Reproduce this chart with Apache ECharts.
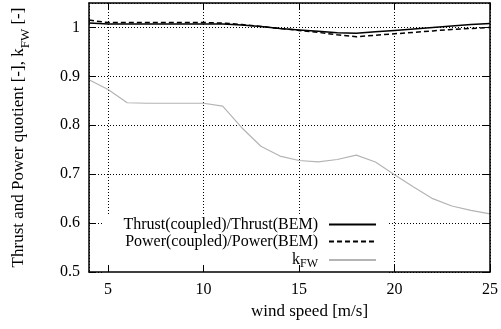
<!DOCTYPE html>
<html>
<head>
<meta charset="utf-8">
<script src="https://cdn.jsdelivr.net/npm/echarts@6/dist/echarts.min.js"></script>
<style>
  html, body { margin: 0; padding: 0; background: #fff; }
  #chart { width: 501px; height: 329px; }
</style>
</head>
<body>
<div id="chart"></div>
<script>
// Wind speed samples [m/s]
const windSpeed = [4, 5, 6, 7, 8, 9, 10, 11, 12, 13, 14, 15, 16, 17, 18, 19, 20, 21, 22, 23, 24, 25];
// Thrust(coupled)/Thrust(BEM)
const thrustRatio = [1.009, 1.007, 1.007, 1.007, 1.007, 1.007, 1.007, 1.007, 1.005, 1.002, 0.998, 0.995, 0.992, 0.989, 0.988, 0.991, 0.994, 0.997, 1.000, 1.003, 1.006, 1.008];
// Power(coupled)/Power(BEM)
const powerRatio = [1.015, 1.010, 1.010, 1.010, 1.010, 1.010, 1.010, 1.009, 1.006, 1.002, 0.998, 0.994, 0.990, 0.985, 0.981, 0.984, 0.987, 0.990, 0.993, 0.996, 0.998, 1.000];
// Free-wake factor k_FW
const kFW = [0.893, 0.873, 0.846, 0.845, 0.845, 0.845, 0.845, 0.839, 0.795, 0.757, 0.737, 0.728, 0.725, 0.730, 0.739, 0.725, 0.699, 0.674, 0.650, 0.635, 0.626, 0.619];
// Axis tick values
const xTicks = [5, 10, 15, 20, 25];
const yTicks = [0.5, 0.6, 0.7, 0.8, 0.9, 1];

const FONT = '"Liberation Serif", "DejaVu Serif", serif';
const pairs = (ys) => windSpeed.map((x, i) => [x, ys[i]]);

const gridLine = { show: true, lineStyle: { color: '#000', type: [1, 2], width: 1 } };
const frame = { show: true, onZero: false, lineStyle: { color: '#000', width: 1.5 } };
const ticksIn = (vals) => ({ show: true, inside: true, length: 7, customValues: vals, lineStyle: { color: '#000', width: 1 } });
const noLine = { show: false };

// Frame-and-tick axes sit above the legend box; grid lines and labels stay below it.
const frameX = (pos) => ({
  type: 'value', min: 4, max: 25, position: pos, z: 10,
  axisLine: frame, axisTick: ticksIn(xTicks),
  axisLabel: { show: false }, splitLine: noLine
});
const frameY = (pos) => ({
  type: 'value', min: 0.5, max: 1.05, position: pos, z: 10,
  axisLine: frame, axisTick: ticksIn(yTicks),
  axisLabel: { show: false }, splitLine: noLine
});

const chart = echarts.init(document.getElementById('chart'), null, { renderer: 'canvas' });
chart.setOption({
  animation: false,
  backgroundColor: '#fff',
  textStyle: { fontFamily: FONT, color: '#000' },
  grid: { left: 89, right: 8, top: 3, bottom: 57, containLabel: false },
  xAxis: [
    {
      type: 'value', min: 4, max: 25, position: 'bottom',
      axisLine: noLine, axisTick: noLine,
      axisLabel: { customValues: xTicks, margin: 10, fontFamily: FONT, fontSize: 16, color: '#000' },
      splitLine: gridLine,
      name: 'wind speed [m/s]', nameLocation: 'middle', nameGap: 23,
      nameTextStyle: { fontFamily: FONT, fontSize: 17, color: '#000', padding: [0, 0, 0, 40] }
    },
    frameX('bottom'),
    frameX('top')
  ],
  yAxis: [
    {
      type: 'value', min: 0.5, max: 1.05, position: 'left',
      axisLine: noLine, axisTick: noLine,
      axisLabel: { customValues: yTicks, margin: 9, fontFamily: FONT, fontSize: 16, color: '#000' },
      splitLine: gridLine,
      name: 'Thrust and Power quotient [-], k{s|FW} [-]', nameLocation: 'middle', nameGap: 57,
      nameTextStyle: {
        fontFamily: FONT, fontSize: 17, color: '#000',
        rich: { s: { fontFamily: FONT, fontSize: 13, color: '#000', verticalAlign: 'bottom', lineHeight: 27 } }
      }
    },
    frameY('left'),
    frameY('right')
  ],
  legend: {
    orient: 'vertical', align: 'right',
    right: 114, top: 214,
    padding: [2, 10, 6, 20],
    backgroundColor: '#fff',
    itemGap: 0, itemWidth: 47, itemHeight: 10,
    itemStyle: { color: 'transparent', borderColor: 'transparent', borderWidth: 0 },
    data: ['Thrust(coupled)/Thrust(BEM)', 'Power(coupled)/Power(BEM)', 'kFW'],
    formatter: (name) => name === 'kFW' ? '{n|k}{s|FW}' : '{t|' + name + '}',
    textStyle: {
      fontFamily: FONT, fontSize: 16, color: '#000', lineHeight: 17,
      rich: {
        t: { fontFamily: FONT, fontSize: 16, color: '#000', lineHeight: 17, padding: [0, 6, 0, 0] },
        n: { fontFamily: FONT, fontSize: 16, color: '#000', lineHeight: 17, padding: [0, 0, 0, 0] },
        s: { fontFamily: FONT, fontSize: 12, color: '#000', lineHeight: 12, padding: [8, 6, 0, 0] }
      }
    }
  },
  series: [
    {
      name: 'Thrust(coupled)/Thrust(BEM)', type: 'line', data: pairs(thrustRatio),
      symbol: 'none', showSymbol: false, lineStyle: { color: '#000', width: 1.5 }, itemStyle: { color: '#000' }
    },
    {
      name: 'Power(coupled)/Power(BEM)', type: 'line', data: pairs(powerRatio),
      symbol: 'none', showSymbol: false, lineStyle: { color: '#000', width: 1.5, type: [5, 3] }, itemStyle: { color: '#000' }
    },
    {
      name: 'kFW', type: 'line', data: pairs(kFW),
      symbol: 'none', showSymbol: false, lineStyle: { color: '#b4b4b4', width: 1.2 }, itemStyle: { color: '#b4b4b4' }
    }
  ]
});
</script>
</body>
</html>
